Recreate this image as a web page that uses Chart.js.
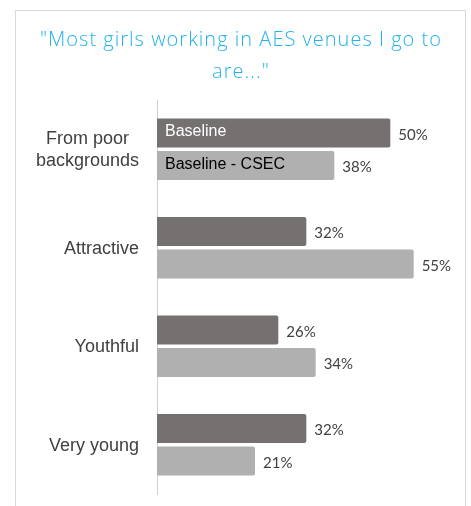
<!DOCTYPE html>
<html>
<head>
<meta charset="utf-8">
<script src="https://cdn.jsdelivr.net/npm/chart.js@4.4.1/dist/chart.umd.min.js"></script>
<style>
  html, body { margin: 0; padding: 0; background: #fff; overflow: hidden; }
  #frame {
    position: absolute; left: 15px; top: 10px;
    width: 451px; height: 520px;
    border: 1px solid #d9d9d9; box-sizing: border-box;
  }
  #wrap { position: absolute; left: 0; top: 0; width: 471px; height: 506px; }
</style>
</head>
<body>
<div id="frame"></div>
<div id="wrap"><canvas id="chart" width="471" height="506"></canvas></div>
<script>
// survey answers, percent of respondents
const categories = [["From poor", "backgrounds"], "Attractive", "Youthful", "Very young"];
const baseline = [50, 32, 26, 32];
const baselineCsec = [38, 55, 34, 21];
const seriesNames = ["Baseline", "Baseline - CSEC"];
const titleLines = ["\"Most girls working in AES venues I go to", "are...\""];

const darkGrey = "#767171";
const lightGrey = "#b0b0b0";

// two-line title centred over the whole frame
const titleText = {
    id: "titleText",
    afterDraw(chart) {
        const ctx = chart.ctx;
        ctx.save();
        ctx.font = "300 20px 'Open Sans', 'Noto Sans', sans-serif";
        ctx.fillStyle = "#22b2ee";
        ctx.textAlign = "center";
        ctx.textBaseline = "middle";
        // stretch a little so the long line spans the frame
        const w = ctx.measureText(titleLines[0]).width;
        const spacing = Math.max(0, Math.min(2, (402 - w) / titleLines[0].length));
        ctx.letterSpacing = spacing + "px";
        ctx.fillText(titleLines[0], 241, 40);
        ctx.fillText(titleLines[1], 241, 72);
        ctx.restore();
    }
};

// category names to the left of the axis, lines centred on each other
const categoryLabels = {
    id: "categoryLabels",
    afterDraw(chart) {
        const ctx = chart.ctx;
        const y = chart.scales.y;
        const right = 139;
        ctx.save();
        ctx.font = "18px 'Liberation Sans', Arial, sans-serif";
        ctx.fillStyle = "#404040";
        ctx.textBaseline = "middle";
        ctx.textAlign = "center";
        categories.forEach((cat, i) => {
            const lines = Array.isArray(cat) ? cat : [cat];
            const cy = y.getPixelForTick(i);
            const widest = Math.max(...lines.map(l => ctx.measureText(l).width));
            const lh = 22;
            lines.forEach((line, j) => {
                const ly = cy + (j - (lines.length - 1) / 2) * lh + 1;
                ctx.fillText(line, right - widest / 2, ly);
            });
        });
        ctx.restore();
    }
};

// value labels after each bar and series names inside the first group
const barText = {
    id: "barText",
    afterDatasetsDraw(chart) {
        const ctx = chart.ctx;
        ctx.save();
        ctx.textBaseline = "middle";
        ctx.textAlign = "left";
        chart.data.datasets.forEach((ds, di) => {
            const meta = chart.getDatasetMeta(di);
            meta.data.forEach((bar, i) => {
                ctx.font = "15px Lato, 'Open Sans', sans-serif";
                ctx.fillStyle = "#404040";
                ctx.fillText(ds.data[i] + "%", bar.x + 8, bar.y + 2);
            });
            const first = meta.data[0];
            ctx.font = "16px 'Liberation Sans', Arial, sans-serif";
            ctx.fillStyle = di === 0 ? "#ffffff" : "#000000";
            ctx.fillText(seriesNames[di], first.base + 8, first.y - 1);
        });
        ctx.restore();
    }
};

new Chart(document.getElementById("chart"), {
    type: "bar",
    data: {
        labels: categories,
        datasets: [
            { label: seriesNames[0], data: baseline, backgroundColor: darkGrey },
            { label: seriesNames[1], data: baselineCsec, backgroundColor: lightGrey }
        ]
    },
    options: {
        indexAxis: "y",
        responsive: false,
        animation: false,
        layout: { padding: { left: 157, right: 34, top: 100, bottom: 12 } },
        datasets: {
            bar: {
                categoryPercentage: 0.66,
                barPercentage: 0.89,
                borderRadius: 2,
                borderSkipped: "start"
            }
        },
        scales: {
            x: { display: false, min: 0, max: 60 },
            y: {
                ticks: { display: false },
                grid: { display: false, drawTicks: false },
                border: { display: true, color: "#d0d0d0", width: 1 },
                afterFit(scale) { scale.width = 0; }
            }
        },
        plugins: {
            legend: { display: false },
            tooltip: { enabled: false },
            title: { display: false }
        }
    },
    plugins: [titleText, categoryLabels, barText]
});
</script>
</body>
</html>
